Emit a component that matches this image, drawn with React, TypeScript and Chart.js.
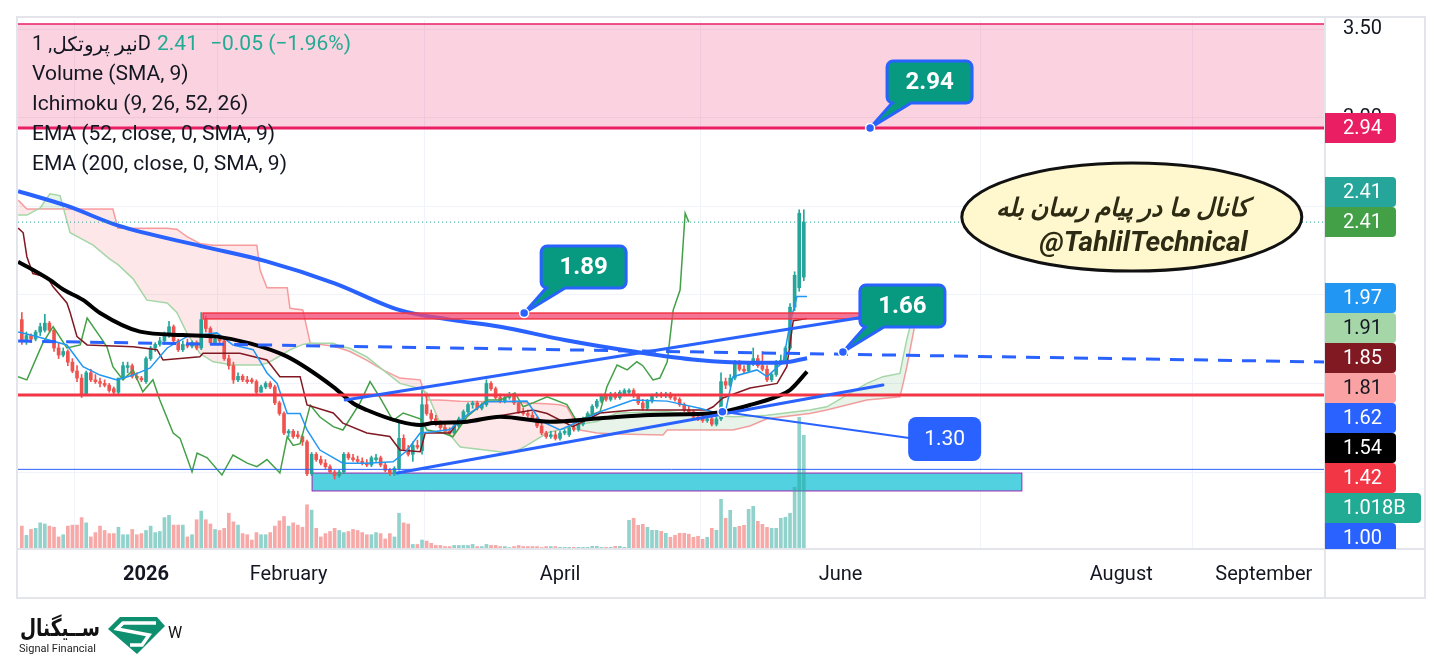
import React, { useEffect, useRef } from "react";
import { Chart, registerables } from "chart.js";

Chart.register(...registerables);

// ---------------- DATA ----------------
// day index: 0 = 2026-01-01 (one bar per calendar day)
const FIRST_DAY = -27;
// [open, high, low, close]
const ohlc: number[][] = [
  [1.86, 1.90, 1.72, 1.74], [1.74, 1.79, 1.72, 1.77], [1.77, 1.78, 1.73, 1.75], [1.75, 1.80, 1.74, 1.79],
  [1.79, 1.84, 1.77, 1.82], [1.80, 1.89, 1.79, 1.84], [1.84, 1.85, 1.79, 1.80], [1.80, 1.81, 1.68, 1.70],
  [1.70, 1.73, 1.64, 1.66], [1.66, 1.70, 1.65, 1.68], [1.68, 1.69, 1.60, 1.62], [1.62, 1.64, 1.56, 1.57],
  [1.57, 1.60, 1.51, 1.53], [1.53, 1.55, 1.42, 1.44], [1.44, 1.57, 1.43, 1.56], [1.56, 1.58, 1.51, 1.52],
  [1.52, 1.55, 1.50, 1.51], [1.51, 1.53, 1.48, 1.50], [1.50, 1.52, 1.48, 1.49], [1.49, 1.50, 1.45, 1.46],
  [1.47, 1.48, 1.44, 1.45], [1.45, 1.53, 1.44, 1.53], [1.53, 1.62, 1.52, 1.60], [1.59, 1.62, 1.56, 1.60],
  [1.60, 1.61, 1.53, 1.54], [1.54, 1.56, 1.52, 1.53], [1.53, 1.54, 1.51, 1.52],
  // day 0
  [1.51, 1.65, 1.50, 1.64], [1.64, 1.71, 1.63, 1.70], [1.70, 1.73, 1.68, 1.72], [1.72, 1.76, 1.71, 1.74],
  [1.74, 1.79, 1.72, 1.78], [1.78, 1.85, 1.76, 1.82], [1.82, 1.83, 1.73, 1.74], [1.74, 1.75, 1.68, 1.69],
  [1.69, 1.74, 1.68, 1.72], [1.72, 1.75, 1.70, 1.71], [1.71, 1.74, 1.70, 1.73], [1.73, 1.74, 1.69, 1.70],
  [1.70, 1.90, 1.69, 1.86], [1.86, 1.88, 1.79, 1.81], [1.81, 1.82, 1.72, 1.73], [1.73, 1.76, 1.72, 1.75],
  [1.75, 1.77, 1.72, 1.74], [1.74, 1.76, 1.63, 1.64], [1.64, 1.66, 1.58, 1.60], [1.60, 1.62, 1.50, 1.52],
  [1.52, 1.56, 1.51, 1.54], [1.54, 1.55, 1.51, 1.52], [1.52, 1.54, 1.50, 1.51], [1.52, 1.53, 1.50, 1.51],
  [1.51, 1.52, 1.44, 1.45], [1.45, 1.49, 1.45, 1.48], [1.48, 1.51, 1.47, 1.50], [1.50, 1.51, 1.47, 1.48],
  [1.48, 1.49, 1.38, 1.39], [1.39, 1.40, 1.32, 1.33], [1.33, 1.34, 1.21, 1.22], [1.22, 1.24, 1.20, 1.23],
  [1.23, 1.24, 1.19, 1.20], [1.21, 1.23, 1.19, 1.20], [1.20, 1.21, 1.15, 1.17], [1.17, 1.18, 0.98, 0.99],
  [0.99, 1.11, 0.98, 1.10], [1.10, 1.11, 1.06, 1.07], [1.07, 1.09, 1.04, 1.05], [1.05, 1.07, 1.02, 1.03],
  [1.03, 1.04, 0.99, 1.00], [1.00, 1.01, 0.96, 0.98], [0.98, 1.01, 0.97, 1.00], [1.00, 1.11, 0.99, 1.10],
  [1.10, 1.11, 1.07, 1.08], [1.08, 1.10, 1.06, 1.07], [1.07, 1.09, 1.05, 1.06], [1.06, 1.08, 1.04, 1.05],
  [1.05, 1.07, 1.03, 1.04], [1.04, 1.09, 1.03, 1.08], [1.07, 1.10, 1.06, 1.08], [1.08, 1.09, 1.03, 1.04],
  [1.04, 1.05, 1.00, 1.01], [1.01, 1.02, 0.98, 0.99], [0.99, 1.03, 0.98, 1.02], [1.02, 1.28, 1.01, 1.19],
  [1.19, 1.21, 1.12, 1.13], [1.13, 1.15, 1.09, 1.10], [1.10, 1.17, 1.06, 1.15], [1.15, 1.18, 1.13, 1.14],
  [1.12, 1.46, 1.10, 1.38], [1.38, 1.43, 1.32, 1.33], [1.33, 1.35, 1.28, 1.30], [1.30, 1.32, 1.26, 1.27],
  [1.27, 1.29, 1.24, 1.25], [1.25, 1.27, 1.22, 1.23], [1.23, 1.25, 1.21, 1.22], [1.22, 1.27, 1.21, 1.26],
  [1.26, 1.31, 1.25, 1.30], [1.30, 1.35, 1.29, 1.34], [1.34, 1.39, 1.33, 1.38], [1.38, 1.40, 1.36, 1.39],
  [1.39, 1.40, 1.35, 1.36], [1.36, 1.39, 1.35, 1.38], [1.38, 1.52, 1.37, 1.50], [1.50, 1.51, 1.46, 1.47],
  [1.47, 1.48, 1.41, 1.42], [1.42, 1.44, 1.39, 1.40], [1.40, 1.43, 1.39, 1.42], [1.42, 1.45, 1.41, 1.43],
  [1.43, 1.44, 1.38, 1.39], [1.39, 1.40, 1.33, 1.34], [1.34, 1.36, 1.32, 1.33], [1.33, 1.35, 1.31, 1.32],
  [1.32, 1.34, 1.29, 1.30], [1.30, 1.31, 1.25, 1.26], [1.26, 1.28, 1.21, 1.22], [1.22, 1.23, 1.19, 1.20],
  [1.20, 1.23, 1.19, 1.21], [1.21, 1.23, 1.18, 1.19], [1.19, 1.23, 1.18, 1.22], [1.22, 1.24, 1.21, 1.23],
  [1.21, 1.26, 1.20, 1.25], [1.25, 1.27, 1.23, 1.24], [1.24, 1.28, 1.23, 1.27], [1.27, 1.31, 1.26, 1.30],
  [1.30, 1.34, 1.29, 1.33], [1.33, 1.38, 1.32, 1.37], [1.37, 1.41, 1.36, 1.40], [1.40, 1.44, 1.39, 1.43],
  [1.43, 1.44, 1.40, 1.41], [1.41, 1.45, 1.40, 1.44], [1.44, 1.45, 1.41, 1.42], [1.42, 1.46, 1.41, 1.45],
  [1.44, 1.47, 1.43, 1.46], [1.45, 1.47, 1.44, 1.46], [1.46, 1.47, 1.42, 1.43], [1.43, 1.44, 1.38, 1.39],
  [1.39, 1.41, 1.35, 1.36], [1.36, 1.41, 1.35, 1.40], [1.40, 1.44, 1.39, 1.43], [1.43, 1.45, 1.42, 1.44],
  [1.44, 1.45, 1.42, 1.43], [1.43, 1.45, 1.42, 1.44], [1.44, 1.45, 1.41, 1.42], [1.42, 1.43, 1.40, 1.41],
  [1.41, 1.42, 1.37, 1.38], [1.38, 1.39, 1.34, 1.35], [1.35, 1.37, 1.33, 1.34], [1.34, 1.35, 1.30, 1.31],
  [1.31, 1.33, 1.29, 1.30], [1.30, 1.32, 1.28, 1.29], [1.29, 1.31, 1.28, 1.30], [1.30, 1.31, 1.26, 1.27],
  [1.27, 1.31, 1.26, 1.30], [1.30, 1.56, 1.29, 1.51], [1.51, 1.53, 1.47, 1.49], [1.49, 1.55, 1.48, 1.53],
  [1.53, 1.63, 1.52, 1.62], [1.62, 1.63, 1.57, 1.58], [1.58, 1.60, 1.56, 1.57], [1.57, 1.62, 1.56, 1.61],
  [1.61, 1.70, 1.60, 1.64], [1.64, 1.66, 1.59, 1.60], [1.60, 1.68, 1.57, 1.58], [1.58, 1.60, 1.51, 1.52],
  [1.52, 1.56, 1.51, 1.55], [1.55, 1.63, 1.54, 1.62], [1.62, 1.66, 1.61, 1.63], [1.63, 1.71, 1.62, 1.70],
  [1.70, 1.95, 1.69, 1.93], [1.93, 2.13, 1.91, 2.11], [2.04, 2.48, 2.02, 2.46], [2.10, 2.48, 2.08, 2.41],
];
// volume in millions, one per bar
const volumeM: number[] = [
  205, 122, 175, 185, 234, 224, 205, 195, 108, 128, 205, 214, 214, 281, 234, 108, 147, 205, 166, 138, 138, 195, 128, 128, 175, 128, 138,
  166, 205, 147, 157, 281, 301, 214, 214, 214, 108, 128, 262, 339, 262, 224, 175, 166, 185, 320, 243, 214, 138, 128, 80,
  147, 128, 128, 147, 205, 252, 291, 205, 234, 214, 195, 396, 348, 185, 108, 138, 157, 185, 166, 147, 157, 175, 166, 147,
  128, 128, 147, 138, 90, 138, 108, 320, 234, 224, 41, 41, 80, 71, 51, 32, 32, 22, 22, 32, 32, 32, 32, 41, 22, 22, 41,
  32, 32, 22, 22, 13, 22, 32, 22, 22, 22, 22, 13, 22, 22, 22, 15, 15, 15, 15, 15, 15, 15, 24, 24, 15, 15, 15, 24, 24, 15,
  257, 275, 212, 221, 194, 167, 167, 158, 141, 105, 123, 141, 141, 132, 105, 114, 87, 105, 185, 167, 445, 275, 346, 194,
  203, 212, 355, 382, 248, 221, 194, 185, 185, 275, 284, 320, 552, 1179, 1018,
];

const monthTicks = [0, 31, 90, 151, 212, 243];
const monthLabels = ["2026", "February", "April", "June", "August", "September"];
const priceTicks = [1.0, 1.5, 2.0, 2.5, 3.0, 3.5];

// [day, price]
const ema200Pts = [[-27.8, 2.585], [-17, 2.5], [-6, 2.39], [12, 2.275], [26, 2.19], [41, 2.065], [55, 1.915], [66, 1.86], [77, 1.82], [91, 1.745], [106, 1.68], [120, 1.632], [131, 1.617], [138, 1.617], [143.7, 1.642]];
const ema52Pts = [[-27.8, 2.187], [-20.9, 2.084], [-18, 2.03], [-13.7, 1.971], [-10, 1.897], [-1.3, 1.792], [8, 1.773], [15.4, 1.764], [22.6, 1.726], [30.7, 1.651], [40.7, 1.481], [45, 1.388], [48, 1.35], [55.2, 1.284], [59.6, 1.265], [62.4, 1.276], [69.8, 1.284], [77, 1.312], [87.8, 1.284], [98.7, 1.303], [109.6, 1.322], [124.1, 1.335], [131.3, 1.378], [137.1, 1.425], [140, 1.463], [143.7, 1.566]];
const tenkanPts = [[-27.8, 1.79], [-24.6, 1.77], [-17.2, 1.717], [-13.7, 1.594], [-10, 1.547], [-6.3, 1.52], [-2.8, 1.547], [0.9, 1.587], [4.6, 1.7], [8.9, 1.764], [15.4, 1.785], [18.9, 1.717], [23.3, 1.69], [26.3, 1.559], [28.5, 1.5], [30.7, 1.33], [33.5, 1.33], [35, 1.237], [37.8, 1.124], [42.8, 1.05], [48, 1.05], [53.7, 1.058], [56.7, 1.12], [59.6, 1.22], [62.4, 1.227], [66.1, 1.24], [69.8, 1.322], [74.1, 1.397], [82.8, 1.4], [85.7, 1.29], [90, 1.237], [98.7, 1.34], [105.9, 1.406], [113.3, 1.4], [120.4, 1.36], [124.1, 1.333], [125.9, 1.333], [127.6, 1.538], [132.8, 1.576], [135, 1.538], [138.5, 1.62], [140, 1.84], [141.5, 1.99], [143.7, 1.99]];
const kijunPts = [[-27.8, 2.377], [-26.7, 2.35], [-25.9, 2.215], [-24.6, 2.12], [-21.5, 2.1], [-20.2, 2.045], [-17.2, 1.954], [-16.5, 1.9], [-15, 1.764], [-12.8, 1.717], [-2.8, 1.707], [2.4, 1.69], [3.7, 1.632], [11.7, 1.65], [12.4, 1.67], [20.4, 1.67], [26.3, 1.632], [29.1, 1.538], [33.5, 1.538], [35, 1.378], [40.7, 1.333], [42.8, 1.276], [48, 1.22], [53, 1.2], [55.2, 1.124], [59.6, 1.115], [60.7, 1.22], [66.1, 1.22], [67.6, 1.276], [84.1, 1.35], [87.2, 1.33], [92.8, 1.256], [98.7, 1.333], [105.9, 1.35], [121.9, 1.35], [123.3, 1.368], [125.4, 1.418], [131.3, 1.474], [137.2, 1.5], [139.3, 1.594], [140.7, 1.854], [143.7, 1.866]];
const chikouPts = [[-27.8, 1.538], [-25.9, 1.52], [-22.4, 1.73], [-20.2, 1.82], [-17.2, 1.7], [-14.3, 1.717], [-12.8, 1.869], [-10, 1.764], [-8.5, 1.707], [-7.2, 1.594], [-5, 1.52], [-2.8, 1.576], [-0.7, 1.453], [1.5, 1.52], [3, 1.406], [5.9, 1.22], [7.4, 1.19], [10, 1.002], [11.1, 1.107], [13.3, 1.08], [16.5, 0.983], [18.9, 1.096], [22, 1.05], [24.1, 1.03], [26.3, 1.07], [29.1, 0.994], [30.7, 1.199], [32, 1.15], [33.5, 1.16], [35.7, 1.378], [37.8, 1.31], [40.7, 1.256], [42.8, 1.237], [46.5, 1.389], [48.7, 1.51], [50.9, 1.418], [53.7, 1.29], [55.9, 1.333], [59.6, 1.3], [61.1, 1.237], [64.6, 1.22], [66.7, 1.199], [69.8, 1.312], [74.1, 1.406], [77, 1.406], [80.2, 1.446], [82, 1.368], [84.1, 1.39], [87.2, 1.425], [91.5, 1.38], [93.7, 1.284], [96.5, 1.32], [98.7, 1.34], [100.2, 1.481], [102.4, 1.604], [104.6, 1.576], [106.7, 1.622], [108, 1.6], [110.2, 1.52], [111.7, 1.53], [113.3, 1.622], [114.6, 1.914], [116.1, 2.027], [117.2, 2.46], [118, 2.41]];
const cloudDays = [-27.8, -25.9, -23.0, -20.9, -18.7, -16.5, -11.5, -7.8, -7.2, -6.1, -2.8, -1.3, 0.2, 4.6, 6.7, 8.9, 11.7, 14.6, 18.9, 24.1, 24.8, 26.3, 27.6, 30.7, 31.3, 34.1, 35.7, 40.7, 42.2, 44.3, 48.0, 51.5, 55.2, 59.6, 61.1, 63.9, 68.3, 79.1, 80.7, 82.8, 87.2, 90.0, 91.5, 94.3, 98.0, 102.4, 112.4, 113.3, 120.4, 127.6, 131.3, 135.0, 144.3, 148.0, 156.7, 160.2, 163.9, 164.6, 165.4, 167.0];
const spanA = [2.45, 2.45, 2.49, 2.57, 2.56, 2.35, 2.28, 2.2, 2.19, 2.17, 2.09, 2.03, 1.97, 1.954, 1.9, 1.784, 1.67, 1.622, 1.604, 1.604, 1.604, 1.615, 1.632, 1.68, 1.69, 1.72, 1.726, 1.726, 1.71, 1.698, 1.65, 1.576, 1.5, 1.47, 1.446, 1.276, 1.141, 1.107, 1.12, 1.15, 1.22, 1.24, 1.25, 1.27, 1.285, 1.333, 1.34, 1.34, 1.325, 1.312, 1.315, 1.32, 1.35, 1.368, 1.5, 1.538, 1.556, 1.65, 1.75, 1.91];
const spanB = [2.535, 2.484, 2.484, 2.484, 2.484, 2.484, 2.484, 2.484, 2.484, 2.375, 2.375, 2.375, 2.375, 2.375, 2.37, 2.328, 2.29, 2.28, 2.28, 2.28, 2.14, 2.04, 2.04, 2.04, 1.924, 1.914, 1.727, 1.71, 1.698, 1.68, 1.63, 1.576, 1.53, 1.52, 1.406, 1.406, 1.4, 1.397, 1.397, 1.39, 1.385, 1.38, 1.368, 1.237, 1.22, 1.215, 1.209, 1.237, 1.237, 1.237, 1.26, 1.3, 1.33, 1.35, 1.406, 1.415, 1.425, 1.5, 1.594, 1.81];

// drawings (day, price)
const resistanceZone = { p0: 2.941, p1: 3.528 };
const lineRed = 1.435;
const lineBlueThin = 1.015;
const lastPrice = 2.41;
const pinkBand = { d0: 12.4, d1: 155.2, p0: 1.864, p1: 1.897 };
const cyanBox = { d0: 36.1, d1: 190.4, p0: 0.893, p1: 0.994 };
const dashedLine = [[-27.8, 1.739], [256.3, 1.621]];
const channelUpper = [[43.3, 1.406], [154.8, 1.869]];
const channelLower = [[54.6, 0.994], [160.2, 1.491]];
const line130 = [[125.3, 1.34], [165.9, 1.192]];
const callouts = [
  { text: "1.89", d: 82.2, p: 1.897 },
  { text: "1.66", d: 151.5, p: 1.677 },
  { text: "2.94", d: 157.4, p: 2.941 },
];
const ellipseNote = { d: 214.3, p: 2.439, line1: "کانال ما در پیام رسان بله", line2: "@TahlilTechnical" };
const axisLabels = [
  { text: "2.94", bg: "#E91E63", fg: "#FFFFFF" },
  { text: "2.41", bg: "#26A69A", fg: "#FFFFFF" },
  { text: "2.41", bg: "#43A047", fg: "#FFFFFF" },
  { text: "1.97", bg: "#2196F3", fg: "#FFFFFF" },
  { text: "1.91", bg: "#A5D6A7", fg: "#131722" },
  { text: "1.85", bg: "#801922", fg: "#FFFFFF" },
  { text: "1.81", bg: "#FAA1A4", fg: "#131722" },
  { text: "1.62", bg: "#2962FF", fg: "#FFFFFF" },
  { text: "1.54", bg: "#000000", fg: "#FFFFFF" },
  { text: "1.42", bg: "#F23645", fg: "#FFFFFF" },
  { text: "1.018B", bg: "#22AB94", fg: "#FFFFFF" },
  { text: "1.00", bg: "#2962FF", fg: "#FFFFFF" },
];
const labelSlotTops = [113, 177, 207, 283, 313, 343, 373, 403, 433, 463, 493, 523];

// ---------------- STYLE / HELPERS ----------------
const UP = "#26A69A";
const DOWN = "#EF5350";
const FONT = "Roboto, 'DejaVu Sans', sans-serif";

const pts = (arr: number[][]) => arr.map(([x, y]) => ({ x, y }));

function rr(ctx: CanvasRenderingContext2D, x: number, y: number, w: number, h: number, r: number) {
  ctx.beginPath();
  ctx.moveTo(x + r, y);
  ctx.arcTo(x + w, y, x + w, y + h, r);
  ctx.arcTo(x + w, y + h, x, y + h, r);
  ctx.arcTo(x, y + h, x, y, r);
  ctx.arcTo(x, y, x + w, y, r);
  ctx.closePath();
}

function dot(ctx: CanvasRenderingContext2D, x: number, y: number) {
  ctx.beginPath();
  ctx.arc(x, y, 4.5, 0, Math.PI * 2);
  ctx.fillStyle = "#2962FF";
  ctx.fill();
  ctx.lineWidth = 1.5;
  ctx.strokeStyle = "#FFFFFF";
  ctx.stroke();
}

function callout(ctx: CanvasRenderingContext2D, ax: number, ay: number, text: string) {
  const bx = ax + 17, by = ay - 67, bw = 85, bh = 42, r = 6;
  const b1 = bx + 5, b2 = bx + 24;
  ctx.beginPath();
  ctx.moveTo(bx + r, by);
  ctx.lineTo(bx + bw - r, by);
  ctx.arcTo(bx + bw, by, bx + bw, by + r, r);
  ctx.lineTo(bx + bw, by + bh - r);
  ctx.arcTo(bx + bw, by + bh, bx + bw - r, by + bh, r);
  ctx.lineTo(b2, by + bh);
  ctx.lineTo(ax, ay);
  ctx.lineTo(b1, by + bh);
  ctx.lineTo(bx + r, by + bh);
  ctx.arcTo(bx, by + bh, bx, by + bh - r, r);
  ctx.lineTo(bx, by + r);
  ctx.arcTo(bx, by, bx + r, by, r);
  ctx.closePath();
  ctx.fillStyle = "#089981";
  ctx.fill();
  ctx.strokeStyle = "#2962FF";
  ctx.lineWidth = 3;
  ctx.lineJoin = "round";
  ctx.stroke();
  ctx.fillStyle = "#FFFFFF";
  ctx.font = `bold 24px ${FONT}`;
  ctx.textAlign = "center";
  ctx.textBaseline = "middle";
  ctx.fillText(text, bx + bw / 2, by + bh / 2 + 1);
  dot(ctx, ax, ay);
}

const drawingsPlugin = {
  id: "drawings",
  beforeDatasetsDraw(chart: any) {
    const { ctx, chartArea: a, scales } = chart;
    const X = (d: number) => scales.x.getPixelForValue(d);
    const Y = (p: number) => scales.y.getPixelForValue(p);
    ctx.save();
    ctx.beginPath();
    ctx.rect(a.left, a.top, a.right - a.left, a.bottom - a.top);
    ctx.clip();
    // resistance zone
    const zt = Y(resistanceZone.p1), zb = Y(resistanceZone.p0);
    ctx.fillStyle = "rgba(233,30,99,0.2)";
    ctx.fillRect(a.left, zt, a.right - a.left, zb - zt);
    ctx.strokeStyle = "#E91E63";
    ctx.lineWidth = 1.5;
    ctx.beginPath();
    ctx.moveTo(a.left, zt);
    ctx.lineTo(a.right, zt);
    ctx.stroke();
    // cyan box
    const cx0 = X(cyanBox.d0), cx1 = X(cyanBox.d1), cy0 = Y(cyanBox.p1), cy1 = Y(cyanBox.p0);
    ctx.fillStyle = "#52D1E0";
    ctx.fillRect(cx0, cy0, cx1 - cx0, cy1 - cy0);
    ctx.strokeStyle = "#9C27B0";
    ctx.lineWidth = 1;
    ctx.strokeRect(cx0, cy0, cx1 - cx0, cy1 - cy0);
    ctx.restore();
  },
  afterDatasetsDraw(chart: any) {
    const { ctx, chartArea: a, scales } = chart;
    const X = (d: number) => scales.x.getPixelForValue(d);
    const Y = (p: number) => scales.y.getPixelForValue(p);
    ctx.save();
    ctx.beginPath();
    ctx.rect(a.left, a.top, a.right - a.left, a.bottom - a.top);
    ctx.clip();
    const hline = (p: number, color: string, w: number, dash: number[] = []) => {
      ctx.strokeStyle = color;
      ctx.lineWidth = w;
      ctx.setLineDash(dash);
      ctx.beginPath();
      ctx.moveTo(a.left, Y(p));
      ctx.lineTo(a.right, Y(p));
      ctx.stroke();
      ctx.setLineDash([]);
    };
    const seg = (s: number[][], color: string, w: number, dash: number[] = []) => {
      ctx.strokeStyle = color;
      ctx.lineWidth = w;
      ctx.setLineDash(dash);
      ctx.lineCap = dash.length ? "butt" : "round";
      ctx.beginPath();
      ctx.moveTo(X(s[0][0]), Y(s[0][1]));
      ctx.lineTo(X(s[1][0]), Y(s[1][1]));
      ctx.stroke();
      ctx.setLineDash([]);
      ctx.lineCap = "butt";
    };
    // pink band
    const bx0 = X(pinkBand.d0), bx1 = X(pinkBand.d1), by0 = Y(pinkBand.p1), by1 = Y(pinkBand.p0);
    ctx.fillStyle = "rgba(240,70,115,0.75)";
    ctx.fillRect(bx0, by0, bx1 - bx0, by1 - by0);
    ctx.strokeStyle = "#F23645";
    ctx.lineWidth = 1.5;
    ctx.strokeRect(bx0, by0, bx1 - bx0, by1 - by0);

    hline(lastPrice, "#26A69A", 1, [1, 3]);
    hline(lineBlueThin, "#2962FF", 1);
    hline(lineRed, "#F23645", 3);
    hline(resistanceZone.p0, "#E91E63", 3);

    seg(dashedLine, "#2962FF", 3, [14, 10]);
    seg(channelUpper, "#2962FF", 3);
    seg(channelLower, "#2962FF", 3);
    seg(line130, "#2962FF", 2);
    dot(ctx, X(line130[0][0]), Y(line130[0][1]));

    // 1.30 label box
    const ex = X(line130[1][0]), ey = Y(line130[1][1]);
    rr(ctx, ex - 1, ey - 21, 73, 44, 8);
    ctx.fillStyle = "#2962FF";
    ctx.fill();
    ctx.fillStyle = "#FFFFFF";
    ctx.font = `21px ${FONT}`;
    ctx.textAlign = "center";
    ctx.textBaseline = "middle";
    ctx.fillText("1.30", ex - 1 + 36.5, ey + 1.5);

    callouts.forEach((c) => callout(ctx, X(c.d), Y(c.p), c.text));

    // ellipse note
    const ecx = X(ellipseNote.d), ecy = Y(ellipseNote.p);
    ctx.beginPath();
    ctx.ellipse(ecx, ecy, 170, 54, 0, 0, Math.PI * 2);
    ctx.fillStyle = "#FFF8CF";
    ctx.fill();
    ctx.lineWidth = 3;
    ctx.strokeStyle = "#111111";
    ctx.stroke();
    ctx.fillStyle = "#2E2B14";
    ctx.textAlign = "right";
    ctx.textBaseline = "middle";
    ctx.font = `bold italic 24px ${FONT}`;
    const w1 = ctx.measureText(ellipseNote.line1).width;
    const s1 = Math.min(30, (24 * 253) / w1);
    ctx.font = `bold italic ${s1.toFixed(1)}px ${FONT}`;
    ctx.fillText(ellipseNote.line1, ecx + 117, ecy - 7);
    ctx.font = `bold italic 26px ${FONT}`;
    const w2 = ctx.measureText(ellipseNote.line2).width;
    const s2 = (26 * 208) / w2;
    ctx.font = `bold italic ${s2.toFixed(1)}px ${FONT}`;
    ctx.fillText(ellipseNote.line2, ecx + 116, ecy + 27);
    ctx.restore();
  },
  afterDraw(chart: any) {
    const { ctx, chartArea: a } = chart;
    ctx.save();
    // legend
    ctx.textBaseline = "middle";
    ctx.textAlign = "left";
    ctx.font = `20px ${FONT}`;
    ctx.fillStyle = "#131722";
    const p1 = "1 ,", p2 = "نیر پروتکل", p3 = "D";
    const wTot = ctx.measureText(p1).width + ctx.measureText(p2).width + ctx.measureText(p3).width;
    ctx.save();
    ctx.translate(32, 45);
    ctx.scale(Math.min(1, 119 / wTot), 1);
    let x = 0;
    ctx.fillText(p1, x, 0);
    x += ctx.measureText(p1).width;
    ctx.fillText(p2, x, 1);
    x += ctx.measureText(p2).width;
    ctx.fillText(p3, x, 0);
    ctx.restore();
    ctx.font = `21px ${FONT}`;
    ctx.fillStyle = "#22AB94";
    ctx.fillText("2.41", 157, 45);
    ctx.fillText("\u22120.05 (\u22121.96%)", 210, 45);
    ctx.fillStyle = "#131722";
    ["Volume (SMA, 9)", "Ichimoku (9, 26, 52, 26)", "EMA (52, close, 0, SMA, 9)", "EMA (200, close, 0, SMA, 9)"].forEach((t, i) => {
      ctx.fillText(t, 32, 75 + i * 30);
    });

    // frame
    ctx.strokeStyle = "#E3E5EB";
    ctx.lineWidth = 2;
    const L = a.left - 1, T = a.top - 3, R = a.right + 100, B = a.bottom + 49;
    ctx.strokeRect(L, T, R - L, B - T);
    ctx.beginPath();
    ctx.moveTo(a.right, T);
    ctx.lineTo(a.right, B);
    ctx.moveTo(L, a.bottom);
    ctx.lineTo(R, a.bottom);
    ctx.stroke();

    // price-axis labels
    axisLabels.forEach((lb, i) => {
      const top = labelSlotTops[i];
      const w = lb.text.length > 4 ? 96 : 71;
      const h = Math.min(30, a.bottom - top);
      ctx.save();
      ctx.beginPath();
      ctx.rect(a.right, top, w + 2, h);
      ctx.clip();
      ctx.beginPath();
      ctx.moveTo(a.right, top);
      ctx.lineTo(a.right + w - 4, top);
      ctx.arcTo(a.right + w, top, a.right + w, top + 4, 4);
      ctx.lineTo(a.right + w, top + 30 - 4);
      ctx.arcTo(a.right + w, top + 30, a.right + w - 4, top + 30, 4);
      ctx.lineTo(a.right, top + 30);
      ctx.closePath();
      ctx.fillStyle = lb.bg;
      ctx.fill();
      ctx.fillStyle = lb.fg;
      ctx.font = `20px ${FONT}`;
      ctx.textAlign = "left";
      ctx.textBaseline = "middle";
      ctx.fillText(lb.text, a.right + 18, top + 16);
      ctx.restore();
    });

    // logo
    ctx.textAlign = "left";
    ctx.textBaseline = "alphabetic";
    ctx.fillStyle = "#111111";
    ctx.font = `bold 24px 'DejaVu Sans', sans-serif`;
    const lw = ctx.measureText("ســیگنال").width;
    ctx.save();
    ctx.translate(20, 636);
    ctx.scale(80 / lw, 1);
    ctx.fillText("ســیگنال", 0, 0);
    ctx.restore();
    ctx.font = `11px ${FONT}`;
    ctx.fillStyle = "#222222";
    ctx.fillText("Signal Financial", 19, 652);
    ctx.fillStyle = "#0E8F70";
    ctx.beginPath();
    ctx.moveTo(108, 629);
    ctx.lineTo(120, 617);
    ctx.lineTo(157, 617);
    ctx.lineTo(165, 626);
    ctx.lineTo(137, 654);
    ctx.closePath();
    ctx.fill();
    ctx.strokeStyle = "#FFFFFF";
    ctx.lineWidth = 3.5;
    ctx.beginPath();
    ctx.moveTo(156, 623);
    ctx.lineTo(123, 623);
    ctx.lineTo(117, 629);
    ctx.lineTo(149, 635);
    ctx.lineTo(142, 645);
    ctx.lineTo(130, 645);
    ctx.stroke();
    ctx.fillStyle = "#111111";
    ctx.font = `16px ${FONT}`;
    ctx.fillText("W", 168, 638);
    ctx.restore();
  },
};

export default function App() {
  const ref = useRef<HTMLCanvasElement | null>(null);
  useEffect(() => {
    document.body.style.margin = "0";
    document.body.style.overflow = "hidden";
    const days = ohlc.map((_, i) => FIRST_DAY + i);
    const up = ohlc.map(([o, , , c]) => c >= o);
    const cfg: any = {
      type: "bar",
      data: {
        datasets: [
          { type: "line", label: "EMA 200", data: pts(ema200Pts), borderColor: "#2962FF", borderWidth: 4, pointRadius: 0, cubicInterpolationMode: "monotone", order: 0 },
          { type: "line", label: "EMA 52", data: pts(ema52Pts), borderColor: "#000000", borderWidth: 4, pointRadius: 0, cubicInterpolationMode: "monotone", order: 1 },
          { type: "line", label: "Conversion", data: pts(tenkanPts), borderColor: "#2196F3", borderWidth: 1.5, pointRadius: 0, tension: 0, order: 2 },
          { type: "line", label: "Base", data: pts(kijunPts), borderColor: "#801922", borderWidth: 1.5, pointRadius: 0, tension: 0, order: 3 },
          { type: "line", label: "Lagging", data: pts(chikouPts), borderColor: "#43A047", borderWidth: 1.5, pointRadius: 0, tension: 0, order: 4 },
          {
            type: "bar", label: "Body", data: days.map((d, i) => ({ x: d, y: [ohlc[i][0], ohlc[i][3]] })),
            backgroundColor: up.map((u) => (u ? UP : DOWN)), barThickness: 3, minBarLength: 1, grouped: false, borderWidth: 0, order: 5,
          },
          {
            type: "bar", label: "Wick", data: days.map((d, i) => ({ x: d, y: [ohlc[i][2], ohlc[i][1]] })),
            backgroundColor: up.map((u) => (u ? UP : DOWN)), barThickness: 1, grouped: false, borderWidth: 0, order: 6,
          },
          {
            type: "line", label: "Lead 1", data: cloudDays.map((d, i) => ({ x: d, y: spanA[i] })), borderColor: "#A5D6A7", borderWidth: 1.5, pointRadius: 0, tension: 0,
            fill: { target: 8, above: "rgba(67,160,71,0.12)", below: "rgba(242,54,69,0.12)" }, order: 7,
          },
          { type: "line", label: "Lead 2", data: cloudDays.map((d, i) => ({ x: d, y: spanB[i] })), borderColor: "#FAA1A4", borderWidth: 1.5, pointRadius: 0, tension: 0, order: 8 },
          {
            type: "bar", label: "Volume", yAxisID: "yVol", data: days.map((d, i) => ({ x: d, y: volumeM[i] ?? 0 })),
            backgroundColor: up.map((u) => (u ? "rgba(38,166,154,0.5)" : "rgba(239,83,80,0.5)")), barThickness: 3, grouped: false, borderWidth: 0, order: 9,
          },
        ],
      },
      options: {
        responsive: false,
        animation: false,
        events: [],
        layout: { padding: { left: 18, top: 20, right: 19, bottom: 61 } },
        plugins: { legend: { display: false }, tooltip: { enabled: false } },
        scales: {
          x: {
            type: "linear", min: -27.83, max: 256.3, offset: false,
            afterBuildTicks: (s: any) => { s.ticks = monthTicks.map((v) => ({ value: v })); },
            afterFit: (s: any) => { s.height = 49; s.paddingLeft = 0; s.paddingRight = 0; },
            ticks: {
              autoSkip: false, maxRotation: 0, padding: 14, color: "#131722",
              callback: (_v: any, i: number) => monthLabels[i],
              font: (c: any) => ({ family: FONT, size: 20, weight: c.index === 0 ? "bold" : "normal" }),
            },
            grid: { color: "#F0F3FA", drawTicks: false },
            border: { display: false },
          },
          y: {
            type: "linear", position: "right", min: 0.5655, max: 3.5508,
            afterBuildTicks: (s: any) => { s.ticks = priceTicks.map((v) => ({ value: v })); },
            afterFit: (s: any) => { s.width = 100; s.paddingTop = 0; s.paddingBottom = 0; },
            ticks: { padding: 18, color: "#131722", font: { family: FONT, size: 20 }, callback: (v: any) => Number(v).toFixed(2) },
            grid: { color: "#F0F3FA", drawTicks: false },
            border: { display: false },
          },
          yVol: { type: "linear", display: false, min: 0, max: 4736 },
        },
      },
      plugins: [drawingsPlugin],
    };
    const chart = new Chart(ref.current as HTMLCanvasElement, cfg);
    return () => chart.destroy();
  }, []);
  return (
    <div style={{ width: 1444, height: 659, background: "#FFFFFF" }}>
      <canvas ref={ref} width={1444} height={659} style={{ display: "block" }} />
    </div>
  );
}
